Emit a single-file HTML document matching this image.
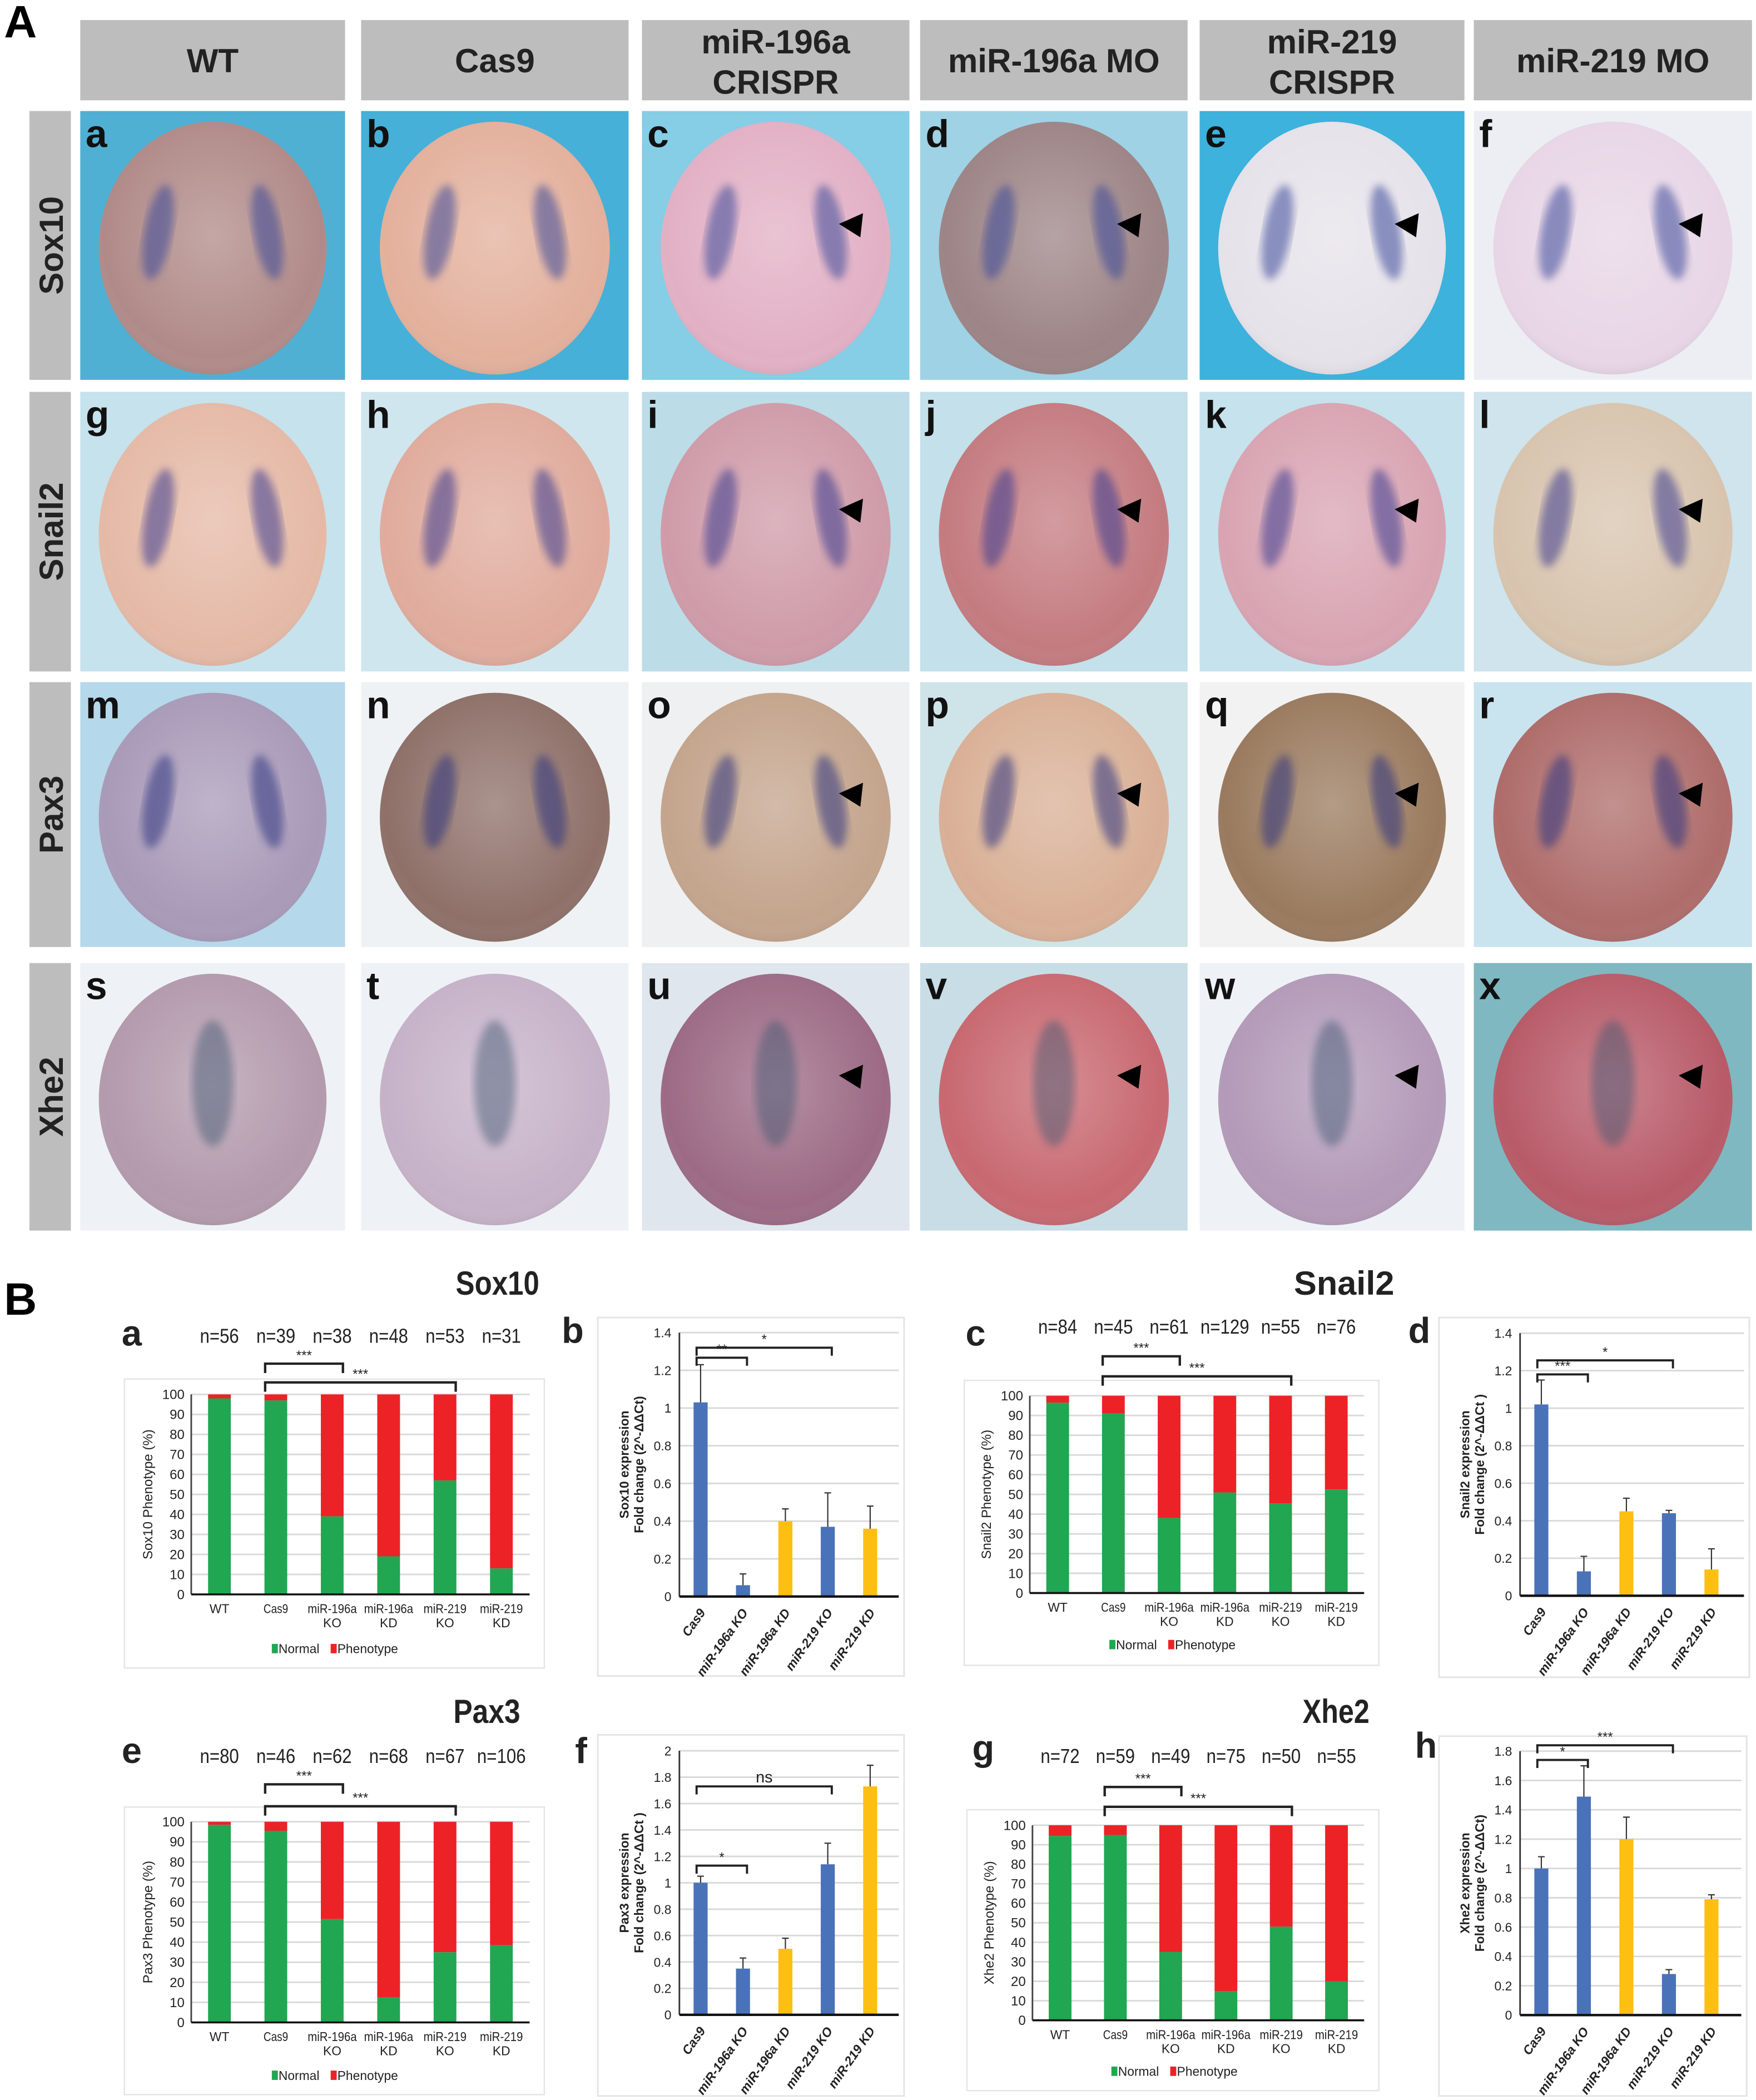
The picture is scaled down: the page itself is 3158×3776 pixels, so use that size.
<!DOCTYPE html>
<html><head><meta charset="utf-8">
<style>
html,body{margin:0;padding:0;background:#fff;}
svg{display:block;}
text{font-family:"Liberation Sans",sans-serif;}
.nar{font-family:"Liberation Sans Narrow","Liberation Sans",sans-serif;}
</style></head>
<body>
<svg id="fig" width="3158" height="3776" viewBox="0 0 1313 1570" preserveAspectRatio="none" xmlns="http://www.w3.org/2000/svg">
<defs>
<radialGradient id="shade" cx="50%" cy="45%" r="60%"><stop offset="0%" stop-color="#fff" stop-opacity="0.25"/><stop offset="80%" stop-color="#fff" stop-opacity="0"/><stop offset="100%" stop-color="#000" stop-opacity="0.15"/></radialGradient>
<filter id="blur3"><feGaussianBlur stdDeviation="3"/></filter>
</defs>
<rect x="0" y="0" width="1313" height="1570" fill="#fff"/>
<text x="3" y="28" font-size="34" font-weight="bold">A</text>
<text x="3" y="983" font-size="34" font-weight="bold">B</text>
<g id="gA"></g>
<g id="gB"></g>
</svg>
<script>
const NS="http://www.w3.org/2000/svg";
function mk(parent,tag,attrs,txt){const e=document.createElementNS(NS,tag);for(const k in attrs)e.setAttribute(k,attrs[k]);if(txt!==undefined)e.textContent=txt;parent.appendChild(e);return e;}

/* ---------- Panel A: image grid ---------- */
const colHeaders=[["WT"],["Cas9"],["miR-196a","CRISPR"],["miR-196a MO"],["miR-219","CRISPR"],["miR-219 MO"]];
const rowHeaders=["Sox10","Snail2","Pax3","Xhe2"];
const colX=[[60,258],[270,470],[480,680],[688,888],[897,1095],[1102,1310]];
const rowY=[[83,284],[293,502],[510,708],[720,920]];
const cellBg=[["#4fb0d4","#46b0d8","#86cde6","#9fd2e4","#3cb2dc","#eceef3"],
["#c6e2ec","#cfe6ef","#bcdce8","#c4e0ea","#c6e2ec","#cfe4ec"],
["#b5d8ea","#eef2f4","#eef0f2","#cfe4e8","#f2f2f2","#c9e4ee"],
["#eef2f6","#eef2f6","#dfe6ee","#c8dde6","#eef2f6","#7fb8c0"]];
const cellEmb=[["#b08a88","#e3b09c","#e2b0c4","#9d8486","#e6e2ea","#e8d6e6"],
["#e5b9a6","#e0ab9c","#cf9ba8","#c47b80","#d9a4b2","#d8c4ae"],
["#a99ab8","#8e7068","#c4a48c","#d9b096","#9a7a5e","#ae6c6a"],
["#b39aac","#c6b2c8","#9c6a84","#c86870","#b39ab8","#b85a68"]];
const streak=["#3a4a9a","#3a3a90","#2e3580","#3a5570"];
const letters="abcdefghijklmnopqrstuvwx";
const gA=document.getElementById('gA');
colHeaders.forEach((h,i)=>{
  const r=mk(gA,'rect',{x:colX[i][0],y:15,width:colX[i][1]-colX[i][0],height:60,fill:"#bdbdbd"});
  
  
  const cx=(colX[i][0]+colX[i][1])/2;
  h.forEach((line,j)=>{
    const t=mk(gA,'text',{x:cx,y:h.length==1?54:(40+j*30),'text-anchor':'middle','font-size':25,'font-weight':'bold',fill:'#222'},line);
    
    
  });
});
rowHeaders.forEach((h,i)=>{
  const r=mk(gA,'rect',{x:22,y:rowY[i][0],width:31,height:rowY[i][1]-rowY[i][0],fill:"#bdbdbd"});
  
  
  const cy=(rowY[i][0]+rowY[i][1])/2;
  const t=mk(gA,'text',{x:0,y:0,transform:`translate(47,${cy}) rotate(-90)`,'text-anchor':'middle','font-size':25,'font-weight':'bold',fill:'#222'},h);
  
  
});
for(let r=0;r<4;r++)for(let c=0;c<6;c++){
  const x0=colX[c][0],x1=colX[c][1],y0=rowY[r][0],y1=rowY[r][1];
  const w=x1-x0,h=y1-y0,cx=(x0+x1)/2,cy=(y0+y1)/2;
  const g=mk(gA,'g',{});
  
  
  mk(g,'rect',{x:x0,y:y0,width:w,height:h,fill:cellBg[r][c]});
  const rx=w*0.43,ry=h*0.47;
  mk(g,'ellipse',{cx:cx,cy:cy+2,rx:rx,ry:ry,fill:cellEmb[r][c]});
  mk(g,'ellipse',{cx:cx,cy:cy+2,rx:rx,ry:ry,fill:'url(#shade)'});
  const sc=streak[r];
  if(r<3){
    mk(g,'ellipse',{cx:cx-rx*0.5,cy:cy-h*0.05,rx:rx*0.12,ry:ry*0.38,fill:sc,opacity:0.55,filter:'url(#blur3)',transform:`rotate(10 ${cx-rx*0.5} ${cy})`});
    mk(g,'ellipse',{cx:cx+rx*0.5,cy:cy-h*0.05,rx:rx*0.12,ry:ry*0.38,fill:sc,opacity:0.55,filter:'url(#blur3)',transform:`rotate(-10 ${cx+rx*0.5} ${cy})`});
  } else {
    mk(g,'ellipse',{cx:cx,cy:cy-h*0.05,rx:rx*0.18,ry:ry*0.5,fill:sc,opacity:0.45,filter:'url(#blur3)'});
  }
  const t=mk(g,'text',{x:x0+4,y:y0+27,'font-size':29,'font-weight':'bold',fill:'#111'},letters[r*6+c]);
  if(c>=2){
    const ax=cx+rx*0.55,ay=cy-h*0.08;
    const a=mk(g,'polygon',{points:`${ax},${ay} ${ax+18},${ay-8} ${ax+16},${ay+10}`,fill:'#000'});
    
    
  }
}

/* ---------- Panel B: charts data ---------- */
const stackCats=[["WT"],["Cas9"],["miR-196a","KO"],["miR-196a","KD"],["miR-219","KO"],["miR-219","KD"]];
const sox10Normal=[98,97,39,19,57,13];
const snail2Normal=[96.5,91,38,51,45.5,52.5];
const pax3Normal=[98.5,95.5,51.5,12.5,35,38.5];
const xhe2Normal=[94.5,95,35,15,48,20];
const sox10N=["n=56","n=39","n=38","n=48","n=53","n=31"];
const snail2N=["n=84","n=45","n=61","n=129","n=55","n=76"];
const pax3N=["n=80","n=46","n=62","n=68","n=67","n=106"];
const xhe2N=["n=72","n=59","n=49","n=75","n=50","n=55"];
const stackTicks=[0,10,20,30,40,50,60,70,80,90,100];
const qCats=["Cas9","miR-196a KO","miR-196a KD","miR-219 KO","miR-219 KD"];
const qColors=["#4a72b8","#4a72b8","#fdbf12","#4a72b8","#fdbf12"];
const sox10Expr=[1.03,0.06,0.40,0.37,0.36];
const sox10Err=[0.20,0.06,0.065,0.18,0.12];
const snail2Expr=[1.02,0.13,0.45,0.44,0.14];
const snail2Err=[0.13,0.08,0.07,0.015,0.11];
const pax3Expr=[1.0,0.35,0.5,1.14,1.73];
const pax3Err=[0.05,0.08,0.08,0.16,0.16];
const xhe2Expr=[1.0,1.49,1.2,0.28,0.79];
const xhe2Err=[0.08,0.21,0.15,0.03,0.03];
const ticks14=[0,0.2,0.4,0.6,0.8,1,1.2,1.4];
const ticks2=[0,0.2,0.4,0.6,0.8,1,1.2,1.4,1.6,1.8,2];
const ticks18=[0,0.2,0.4,0.6,0.8,1,1.2,1.4,1.6,1.8];
/* brackets: [fromIndex,toIndex,level,label] */
const sox10Brk=[[0,1,1.267,"**"],[0,3,1.32,"*"]];
const snail2Brk=[[0,1,1.18,"***"],[0,3,1.255,"*"]];
const pax3Brk=[[0,1,1.13,"*"],[0,3,1.73,"ns"]];
const xhe2Brk=[[0,1,1.74,"*"],[0,3,1.84,"***"]];

const gB=document.getElementById('gB');

function stacked(o){
  const g=mk(gB,'g',{});
  
  
  const box=mk(g,'rect',{x:o.box[0],y:o.box[1],width:o.box[2],height:o.box[3],fill:'#fff',stroke:'#e4e4e4','stroke-width':1});
  
  
  const yS=v=>o.y0+(o.y100-o.y0)*v/100;
  const step=(o.right-o.left)/o.cats.length;
  const xS=i=>o.left+step*(i+0.5);
  o.ticks.forEach(t=>{
    if(t>0){const gl=mk(g,'line',{x1:o.left,x2:o.right,y1:yS(t),y2:yS(t),stroke:'#d9d9d9','stroke-width':1.2});
    
    }
    const tl=mk(g,'text',{x:o.left-5,y:yS(t)+3.5,'text-anchor':'end','font-size':10,class:'nar',fill:'#222'},t);
    
    
  });
  const bw=17;
  o.vals.forEach((v,i)=>{
    const b1=mk(g,'rect',{x:xS(i)-bw/2,y:yS(100),width:bw,height:yS(v)-yS(100),fill:'#ec2227'});
    
    
    const b2=mk(g,'rect',{x:xS(i)-bw/2,y:yS(v),width:bw,height:yS(0)-yS(v),fill:'#21a651'});
    
    
    o.cats[i].forEach((l,j)=>{
      const attrs={x:xS(i),y:o.y0+14+j*10.5,'text-anchor':'middle','font-size':9.5,class:'nar',fill:'#222'};
      if(l.length>3){attrs.textLength=l.length*4.6;attrs.lengthAdjust='spacingAndGlyphs';}
      const xl=mk(g,'text',attrs,l);
      
      
    });
    const nt=mk(g,'text',{x:xS(i),y:o.nY,'text-anchor':'middle','font-size':15,class:'nar',fill:'#222',textLength:o.ns[i].length*7.3,lengthAdjust:'spacingAndGlyphs'},o.ns[i]);
    
    
  });
  const ax=mk(g,'line',{x1:o.left,x2:o.left,y1:yS(100),y2:yS(0),stroke:'#444','stroke-width':1.2});
  
  
  const xa=mk(g,'line',{x1:o.left,x2:o.right,y1:yS(0),y2:yS(0),stroke:'#111','stroke-width':1.5});
  
  
  const yt=mk(g,'text',{x:0,y:0,transform:`translate(${o.left-29},${(yS(0)+yS(100))/2}) rotate(-90)`,'text-anchor':'middle','font-size':10,fill:'#222'},o.ytitle);
  
  
  const lx=xS(1)-3,ly=o.legY;
  const l1=mk(g,'rect',{x:lx,y:ly-7,width:4.5,height:7,fill:'#21a651'});
  
  
  const t1=mk(g,'text',{x:lx+5,y:ly,'font-size':9.5,class:'nar',fill:'#222'},"Normal");
  
  
  const l2=mk(g,'rect',{x:lx+44,y:ly-7,width:4.5,height:7,fill:'#ec2227'});
  
  
  const t2=mk(g,'text',{x:lx+49,y:ly,'font-size':9.5,class:'nar',fill:'#222'},"Phenotype");
  
  
  [[1,2,o.brY[0]],[1,4,o.brY[1]]].forEach(([a,b,y])=>{
    const x1=xS(a)-8,x2=xS(b)+8;
    const p=mk(g,'path',{d:`M${x1},${y+7}V${y}H${x2}V${y+7}`,fill:'none',stroke:'#222','stroke-width':1.8});
    
    
    const s=mk(g,'text',{x:(x1+x2)/2,y:y-3,'text-anchor':'middle','font-size':10,fill:'#222'},"***");
    
    
  });
  const lab=mk(g,'text',{x:o.letter[0],y:o.letter[1],'font-size':27,'font-weight':'bold',fill:'#222'},o.letterTxt);
  
  
}

function barchart(o){
  const g=mk(gB,'g',{});
  
  
  const box=mk(g,'rect',{x:o.box[0],y:o.box[1],width:o.box[2],height:o.box[3],fill:'#fff',stroke:'#e4e4e4','stroke-width':1.2});
  
  
  const yS=v=>o.y0+(o.yTop-o.y0)*v/o.max;
  const step=o.step;
  const xS=i=>o.left+step*(i+0.5);
  const gr=o.box[0]+o.box[2]-4;
  o.ticks.forEach(t=>{
    if(t>0){const gl=mk(g,'line',{x1:o.left,x2:gr,y1:yS(t),y2:yS(t),stroke:'#d9d9d9','stroke-width':1.2});
    
    }
    const tl=mk(g,'text',{x:o.left-6,y:yS(t)+3.5,'text-anchor':'end','font-size':9.5,class:'nar',fill:'#222'},String(t));
    
    
  });
  const bw=10.5;
  o.vals.forEach((v,i)=>{
    const b=mk(g,'rect',{x:xS(i)-bw/2,y:yS(v),width:bw,height:yS(0)-yS(v),fill:qColors[i]});
    
    
    const e=mk(g,'path',{d:`M${xS(i)},${yS(v)}V${yS(v+o.err[i])}M${xS(i)-2.5},${yS(v+o.err[i])}H${xS(i)+2.5}`,stroke:'#333','stroke-width':0.9,fill:'none'});
    
    
    const xl=mk(g,'text',{x:0,y:0,transform:`translate(${xS(i)+4},${o.y0+12}) rotate(-55)`,'text-anchor':'end','font-size':9.5,'font-weight':'bold','font-style':'italic',fill:'#222'},qCats[i]);
    
    
  });
  const ax=mk(g,'line',{x1:o.left,x2:o.left,y1:yS(o.max),y2:yS(0),stroke:'#333','stroke-width':1.2});
  
  
  const xa=mk(g,'line',{x1:o.left,x2:gr,y1:yS(0),y2:yS(0),stroke:'#111','stroke-width':1.8});
  
  
  const cy=(yS(0)+yS(o.max))/2;
  o.ytitle.forEach((l,j)=>{
    const t=mk(g,'text',{x:0,y:0,transform:`translate(${o.left-38+j*11},${cy}) rotate(-90)`,'text-anchor':'middle','font-size':9.5,'font-weight':'bold',fill:'#222'},l);
    
    
  });
  o.brk.forEach(([a,b,v,l])=>{
    const x1=xS(a)-3,x2=xS(b)+3,y=yS(v);
    const p=mk(g,'path',{d:`M${x1},${y+6}V${y}H${x2}V${y+6}`,fill:'none',stroke:'#222','stroke-width':1.6});
    
    
    const s=mk(g,'text',{x:(x1+x2)/2,y:y-3,'text-anchor':'middle','font-size':l=="ns"?12:10,class:l=="ns"?'nar':'',fill:'#222'},l);
    
    
  });
  const lab=mk(g,'text',{x:o.letter[0],y:o.letter[1],'font-size':27,'font-weight':'bold',fill:'#222'},o.letterTxt);
  
  
}

function title(x,y,t){
  const e=mk(gB,'text',{x:x,y:y,'text-anchor':'middle','font-size':25,'font-weight':'bold',class:'nar',fill:'#222',textLength:t.length*12.5,lengthAdjust:'spacingAndGlyphs'},t);
  
  
}
title(372,968,"Sox10");title(1005,968,"Snail2");title(364,1288,"Pax3");title(999,1288,"Xhe2");

stacked({name:'sox10-phenotype-chart',box:[93,1031,314,216],left:143,right:396,y0:1192,y100:1042.5,cats:stackCats,vals:sox10Normal,ns:sox10N,ticks:stackTicks,nY:1004,ytitle:"Sox10 Phenotype (%)",legY:1236,brY:[1019.5,1033.5],letter:[91,1006],letterTxt:"a"});
stacked({name:'snail2-phenotype-chart',box:[721,1032,310,213],left:770,right:1020,y0:1191,y100:1043.5,cats:stackCats,vals:snail2Normal,ns:snail2N,ticks:stackTicks,nY:997,ytitle:"Snail2 Phenotype (%)",legY:1233,brY:[1014,1029],letter:[722,1006],letterTxt:"c"});
stacked({name:'pax3-phenotype-chart',box:[93,1351,314,215],left:143,right:396,y0:1512,y100:1362,cats:stackCats,vals:pax3Normal,ns:pax3N,ticks:stackTicks,nY:1318,ytitle:"Pax3 Phenotype (%)",legY:1555,brY:[1334,1350.4],letter:[91,1318],letterTxt:"e"});
stacked({name:'xhe2-phenotype-chart',box:[723,1353,308,210],left:772,right:1020,y0:1510.4,y100:1364.6,cats:stackCats,vals:xhe2Normal,ns:xhe2N,ticks:stackTicks,nY:1318,ytitle:"Xhe2 Phenotype (%)",legY:1552,brY:[1336,1350.8],letter:[727,1316],letterTxt:"g"});

barchart({name:'sox10-expression-chart',box:[447,985,229,268],left:508,step:31.7,y0:1193.6,yTop:996.3,max:1.4,ticks:ticks14,vals:sox10Expr,err:sox10Err,ytitle:["Sox10 expression","Fold change (2^-ΔΔCt)"],brk:sox10Brk,letter:[420,1004],letterTxt:"b"});
barchart({name:'snail2-expression-chart',box:[1076,985,232,269],left:1136.6,step:31.8,y0:1193,yTop:996.7,max:1.4,ticks:ticks14,vals:snail2Expr,err:snail2Err,ytitle:["Snail2 expression","Fold change (2^-ΔΔCt )"],brk:snail2Brk,letter:[1053,1004],letterTxt:"d"});
barchart({name:'pax3-expression-chart',box:[447,1297,229,270],left:508,step:31.7,y0:1506.3,yTop:1308.9,max:2,ticks:ticks2,vals:pax3Expr,err:pax3Err,ytitle:["Pax3 expression","Fold change (2^-ΔΔCt )"],brk:pax3Brk,letter:[430,1318],letterTxt:"f"});
barchart({name:'xhe2-expression-chart',box:[1076,1298,230,269],left:1136.6,step:31.8,y0:1506.5,yTop:1309.2,max:1.8,ticks:ticks18,vals:xhe2Expr,err:xhe2Err,ytitle:["Xhe2 expression","Fold change (2^-ΔΔCt)"],brk:xhe2Brk,letter:[1058,1314],letterTxt:"h"});
</script>
</body></html>
